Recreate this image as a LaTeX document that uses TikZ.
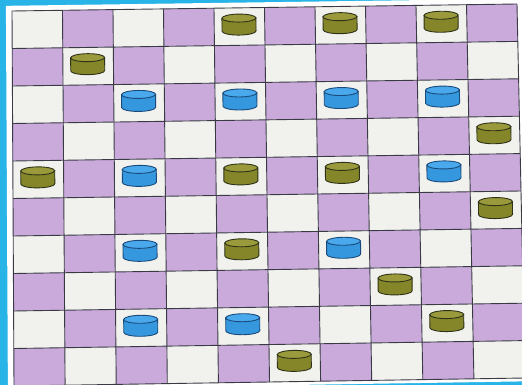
\documentclass[tikz,border=0pt]{standalone}
\begin{document}
\begin{tikzpicture}[x=1pt,y=-1pt]
\definecolor{frame}{HTML}{28B4E6}
\definecolor{lav}{HTML}{C9AADB}
\definecolor{offw}{HTML}{F1F2EE}
\definecolor{gridc}{HTML}{3A3A44}
\definecolor{olbody}{HTML}{85852A}
\definecolor{oltop}{HTML}{9A9A3C}
\definecolor{olline}{HTML}{2E3318}
\definecolor{blbody}{HTML}{3598DE}
\definecolor{bltop}{HTML}{4AA8EC}
\definecolor{blline}{HTML}{1A4A7A}
\tikzset{
  cyl/.pic={
    \filldraw[fill=#1body,draw=#1line,line width=0.9pt]
      (-17,-6.5) -- (-17,6.5) arc[start angle=180,end angle=0,x radius=17,y radius=4]
      -- (17,-6.5) -- cycle;
    \filldraw[fill=#1top,draw=#1line,line width=0.9pt] (0,-6.5) ellipse[x radius=17,y radius=4];
  }
}
\def\gp#1#2{({12+50.5*(#1)+0.2*(#2)+0.06*(#1)*(#2)},{11-0.7*(#1)+37.5*(#2)-0.01*(#1)*(#2)})}
\useasboundingbox (0,0) rectangle (522,385);
\fill[frame] (0,0) rectangle (522,385);
\fill[white] \gp{-0.12}{-0.14} -- \gp{10.12}{-0.14} -- \gp{10.12}{10.09} -- \gp{-0.12}{10.09} -- cycle;
\foreach \r in {0,...,9}{
  \foreach \c in {0,...,9}{
    \pgfmathtruncatemacro{\pp}{mod(\r+\c,2)}
    \pgfmathtruncatemacro{\cc}{\c+1}
    \pgfmathtruncatemacro{\rr}{\r+1}
    \ifnum\pp=1 \def\cellcol{lav}\else \def\cellcol{offw}\fi
    \fill[\cellcol] \gp{\c}{\r} -- \gp{\cc}{\r} -- \gp{\cc}{\rr} -- \gp{\c}{\rr} -- cycle;
  }
}
\foreach \i in {0,...,10}{
  \draw[gridc,line width=0.9pt] \gp{\i}{0} -- \gp{\i}{10};
  \draw[gridc,line width=0.9pt] \gp{0}{\i} -- \gp{10}{\i};
}
\foreach \c/\r/\k in {4/0/ol,6/0/ol,8/0/ol,1/1/ol,2/2/bl,4/2/bl,6/2/bl,8/2/bl,9/3/ol,
  0/4/ol,2/4/bl,4/4/ol,6/4/ol,8/4/bl,9/5/ol,2/6/bl,4/6/ol,6/6/bl,7/7/ol,2/8/bl,4/8/bl,8/8/ol,5/9/ol}{
  \path \gp{\c+0.5}{\r+0.5} coordinate (p-\c-\r);
  \pic[shift={(-0.5,-2)}, rotate=0.6] at (p-\c-\r) {cyl=\k};
}
\end{tikzpicture}
\end{document}
